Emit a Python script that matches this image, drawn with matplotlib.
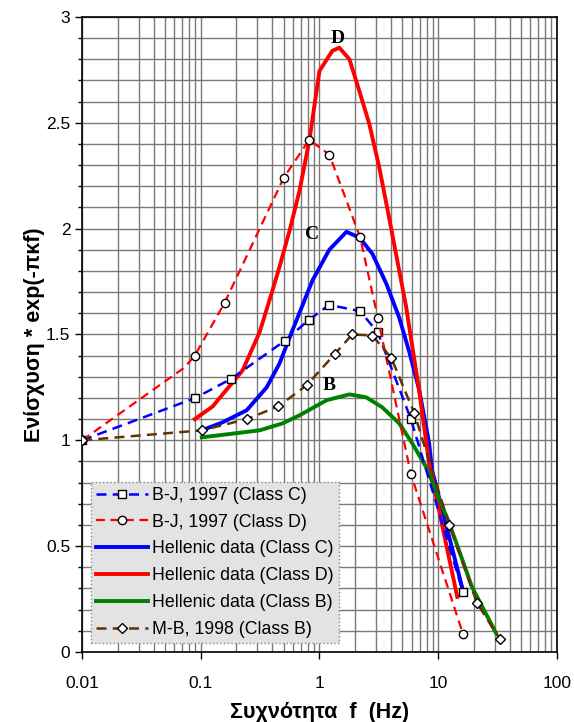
import numpy as np
import matplotlib
matplotlib.use("Agg")
import matplotlib.pyplot as plt
from matplotlib.ticker import MultipleLocator, FixedLocator, FixedFormatter, NullFormatter

plt.rcParams['font.family'] = ['Liberation Sans', 'DejaVu Sans']

# B-J 1997, Class C (dashed blue, squares)
bjc_f = [0.01, 0.09, 0.18, 0.51, 0.82, 1.21, 2.2, 3.1, 5.9, 16.2]
bjc_y = [1.00, 1.20, 1.29, 1.47, 1.57, 1.64, 1.61, 1.51, 1.10, 0.283]

# B-J 1997, Class D (dashed red, circles); 0.073 is a bend without marker
bjd_f = [0.01, 0.073, 0.089, 0.159, 0.50, 0.82, 1.21, 2.2, 3.1, 5.9, 16.2]
bjd_y = [1.00, 1.344, 1.40, 1.65, 2.24, 2.42, 2.35, 1.96, 1.58, 0.84, 0.085]
bjd_marks = [0, 2, 3, 4, 5, 6, 7, 8, 9, 10]

# Hellenic data, Class C
hc_f = [0.102, 0.153, 0.244, 0.359, 0.46, 0.593, 0.873, 1.21, 1.69, 2.17,
        2.79, 3.66, 4.7, 5.7, 6.92, 8.4, 8.9, 16.2]
hc_y = [1.047, 1.085, 1.142, 1.25, 1.362, 1.52, 1.755, 1.90, 1.985, 1.958,
        1.882, 1.74, 1.58, 1.42, 1.24, 0.986, 0.858, 0.29]

# Hellenic data, Class D
hd_f = [0.089, 0.126, 0.225, 0.313, 0.403, 0.461, 0.56, 0.68, 0.824, 1.0,
        1.285, 1.47, 1.79, 2.17, 2.63, 3.19, 3.87, 5.38, 6.92, 8.4, 14.5]
hd_y = [1.10, 1.16, 1.33, 1.51, 1.71, 1.82, 1.99, 2.18, 2.42, 2.745,
        2.84, 2.855, 2.80, 2.65, 2.495, 2.29, 2.05, 1.63, 1.236, 0.892, 0.26]

# Hellenic data, Class B
hb_f = [0.102, 0.165, 0.313, 0.489, 0.68, 1.146, 1.79, 2.48, 3.38, 4.7,
        6.05, 7.93, 12.4, 19.3, 30.7]
hb_y = [1.014, 1.028, 1.047, 1.08, 1.118, 1.189, 1.217, 1.203, 1.156, 1.08,
        0.986, 0.873, 0.61, 0.307, 0.09]

# M-B 1998, Class B (dashed brown, diamonds)
mb_f = [0.01, 0.102, 0.244, 0.45, 0.78, 1.36, 1.89, 2.79, 4.03, 6.28, 12.4, 21.3, 33.2]
mb_y = [1.00, 1.047, 1.10, 1.16, 1.26, 1.41, 1.50, 1.495, 1.39, 1.13, 0.60, 0.23, 0.06]

xtick_vals = [0.01, 0.1, 1, 10, 100]
xtick_labels = ['0.01', '0.1', '1', '10', '100']
ytick_vals = [0, 0.5, 1, 1.5, 2, 2.5, 3]
ytick_labels = ['0', '0.5', '1', '1.5', '2', '2.5', '3']

fig = plt.figure(figsize=(5.74, 7.22), dpi=100)
ax = fig.add_axes([0.143, 0.097, 0.827, 0.8795])

dash = (4, 2.5)
ax.plot(bjc_f, bjc_y, color='#0000ff', lw=1.8, dashes=dash, marker='s', ms=6,
        mfc='white', mec='black', mew=1.0, label='B-J, 1997 (Class C)', zorder=3)
ax.plot(bjd_f, bjd_y, color='#ff0000', lw=1.6, dashes=dash, marker='o', ms=6,
        mfc='white', mec='black', mew=1.0, markevery=bjd_marks,
        label='B-J, 1997 (Class D)', zorder=3)
ax.plot(hc_f, hc_y, color='#0000ff', lw=2.8, label='Hellenic data (Class C)', zorder=2)
ax.plot(hd_f, hd_y, color='#ff0000', lw=2.8, label='Hellenic data (Class D)', zorder=2)
ax.plot(hb_f, hb_y, color='#008000', lw=2.8, label='Hellenic data (Class B)', zorder=2)
ax.plot(mb_f, mb_y, color='#663300', lw=1.8, dashes=dash, marker='D', ms=5,
        mfc='white', mec='black', mew=1.0, label='M-B, 1998 (Class B)', zorder=3)

ax.text(1.42, 2.90, 'D', family='Liberation Serif', fontweight='bold', fontsize=14,
        ha='center', va='center')
ax.text(0.86, 1.97, 'C', family='Liberation Serif', fontweight='bold', fontsize=14,
        ha='center', va='center')
ax.text(1.21, 1.26, 'B', family='Liberation Serif', fontweight='bold', fontsize=14,
        ha='center', va='center')

ax.set_xscale('log')
ax.set_xlim(0.01, 100)
ax.set_ylim(0, 3)
ax.xaxis.set_major_locator(FixedLocator(xtick_vals))
ax.xaxis.set_major_formatter(FixedFormatter(xtick_labels))
ax.xaxis.set_minor_formatter(NullFormatter())
ax.yaxis.set_major_locator(FixedLocator(ytick_vals))
ax.yaxis.set_major_formatter(FixedFormatter(ytick_labels))
ax.yaxis.set_minor_locator(MultipleLocator(0.1))

ax.grid(True, which='both', color='#7a7a7a', lw=1.0)
ax.set_axisbelow(True)
ax.tick_params(axis='both', which='major', direction='out', length=5, width=1,
               labelsize=12.5, colors='black')
ax.tick_params(axis='x', which='minor', length=0)
ax.tick_params(axis='y', which='minor', direction='out', length=3, width=1)
ax.tick_params(axis='x', pad=12)
for sp in ax.spines.values():
    sp.set_color('black')
    sp.set_linewidth(1.2)

ax.set_xlabel('Συχνότητα  f  (Hz)', fontsize=15.5, fontweight='bold', labelpad=8)
ax.set_ylabel('Ενίσχυση * exp(-πκf)', fontsize=15.5, fontweight='bold', labelpad=1)

leg = ax.legend(loc='lower left', bbox_to_anchor=(0.019, 0.014), fontsize=12.8,
                frameon=True, fancybox=False, handlelength=2.9, handletextpad=0.25,
                labelspacing=0.55, borderpad=0.3, borderaxespad=0, framealpha=1)
frame = leg.get_frame()
frame.set_facecolor('#e3e3e3')
frame.set_edgecolor('#888888')
frame.set_linestyle(':')
frame.set_linewidth(1.0)

fig.savefig('out.png', dpi=100)
